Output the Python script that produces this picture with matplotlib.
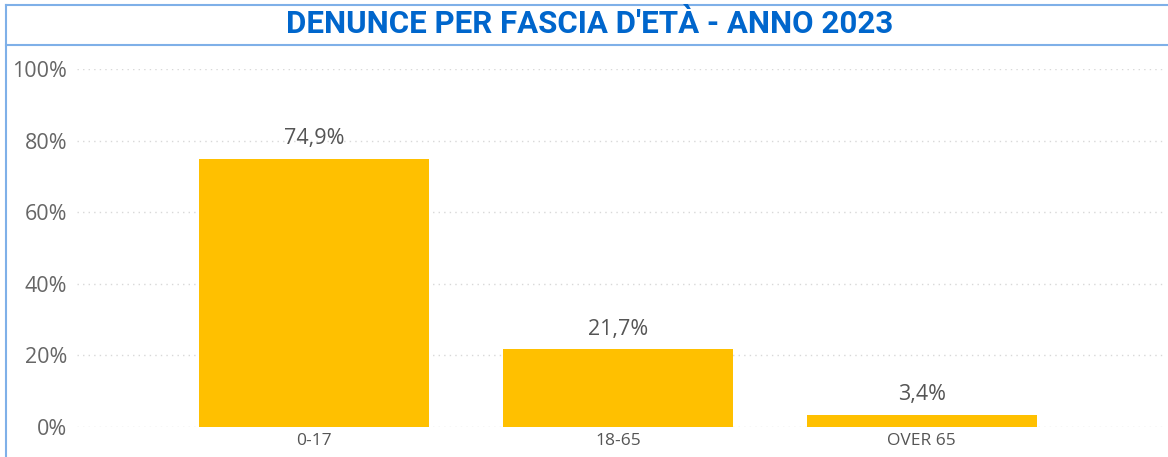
import matplotlib.pyplot as plt
from matplotlib.lines import Line2D

# Data
categories = ["0-17", "18-65", "OVER 65"]
values = [74.9, 21.7, 3.4]
yticks = [0, 20, 40, 60, 80, 100]

W, H = 1168, 457
fig = plt.figure(figsize=(W / 100, H / 100), dpi=100)
plt.rcParams['font.family'] = ['Open Sans', 'DejaVu Sans']

# axes placed so gridlines span from x=77 to x=1165 px
ax = fig.add_axes([77 / W, 30 / H, (1165 - 77) / W, (427 - 69) / H])

x = list(range(len(categories)))
ax.bar(x, values, width=0.757, color="#FFC000", zorder=2)
ax.set_xlim(-0.78, 2.80)
ax.set_ylim(0, 100)

for xi, v in zip(x, values):
    ax.annotate(f"{v:.1f}".replace(".", ",") + "%", (xi, v),
                xytext=(0, 7), textcoords="offset points",
                ha="center", va="bottom", fontsize=15.5, color="#555555")

ax.set_yticks(yticks)
ax.set_yticklabels([f"{t}%" for t in yticks], fontsize=15.5, color="#666666")
ax.set_xticks(x)
ax.set_xticklabels(categories, fontsize=12.5, color="#555555")
ax.tick_params(axis="y", length=0, pad=7)
ax.tick_params(axis="x", length=0, pad=4)
ax.yaxis.grid(True, linestyle=(0, (1, 3)), color="#d8d8d8", linewidth=1, zorder=0)
for s in ax.spines.values():
    s.set_visible(False)

# title and frame
fig.text(0.505, 1 - 24 / H, "DENUNCE PER FASCIA D'ETÀ - ANNO 2023",
         ha="center", va="center", fontsize=22.5, fontweight="bold",
         color="#0066CC", family=["Roboto", "DejaVu Sans"])
frame_color = "#7FB0E8"
fig.add_artist(Line2D([6 / W, 1], [1 - 5 / H, 1 - 5 / H], color=frame_color, lw=1.5))
fig.add_artist(Line2D([6 / W, 1], [1 - 45 / H, 1 - 45 / H], color=frame_color, lw=1.5))
fig.add_artist(Line2D([6 / W, 6 / W], [0, 1 - 5 / H], color=frame_color, lw=1.5))

fig.savefig("out.png", dpi=100)
